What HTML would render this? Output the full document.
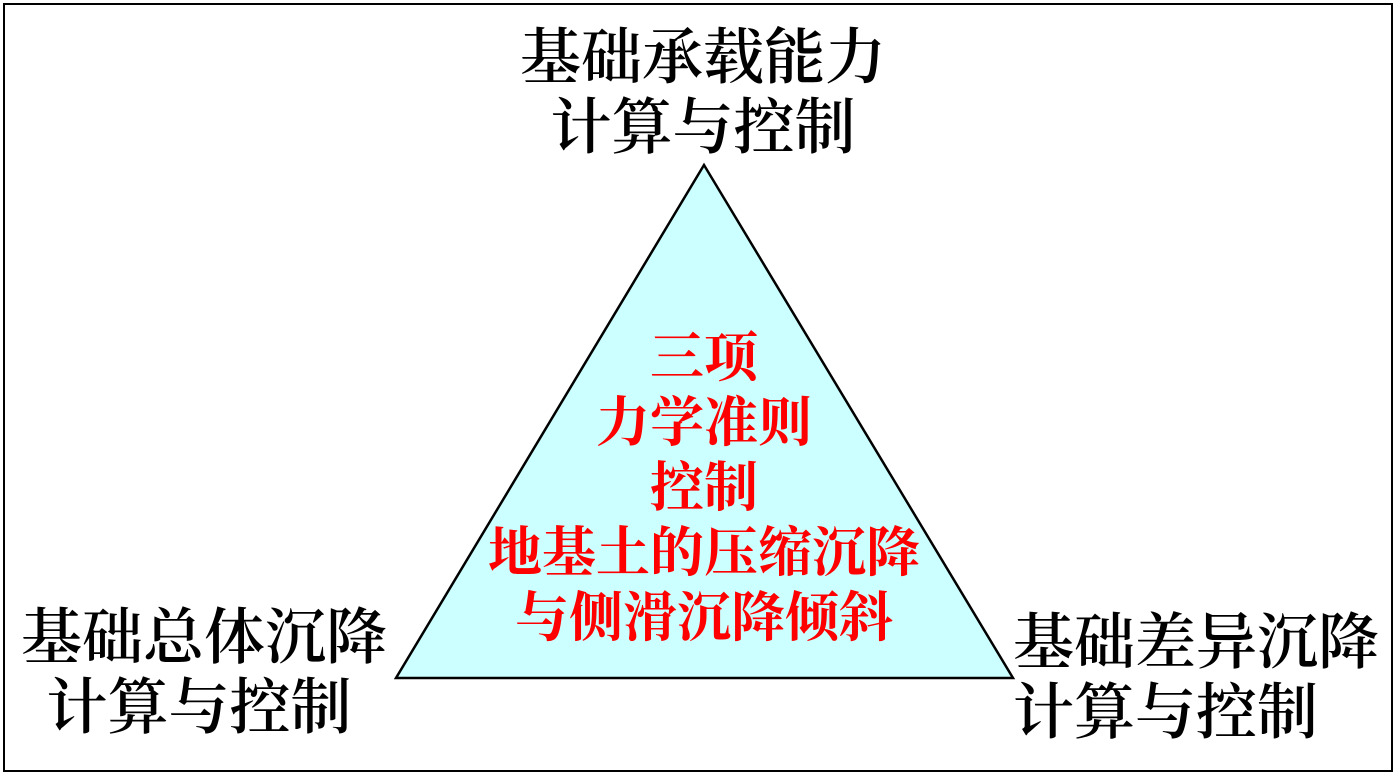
<!DOCTYPE html>
<html><head><meta charset="utf-8"><style>
html,body{margin:0;padding:0;background:#fff;}
body{width:1399px;height:778px;position:relative;overflow:hidden;}
.b{position:absolute;left:3px;top:3px;width:1390px;height:769px;border:2px solid #000;box-sizing:border-box;}
.t{position:absolute;font-family:"Liberation Serif","Noto Serif CJK SC",serif;font-weight:600;font-size:61px;line-height:70px;color:#000;white-space:nowrap;}
.r{position:absolute;left:404px;width:600px;text-align:center;font-family:"Liberation Serif","Noto Serif CJK SC",serif;font-weight:bold;font-size:54px;line-height:65px;color:#ff0000;white-space:nowrap;top:326px;}
</style></head><body>
<div class="b"></div>
<svg style="position:absolute;left:0;top:0" width="1399" height="778">
<polygon points="704,165 396,678 1013,678" fill="#ccffff" stroke="#000" stroke-width="2.5"/>
</svg>
<div class="t" style="left:0;width:1406px;text-align:center;top:24px">基础承载能力<br>计算与控制</div>
<div class="t" style="left:18px;top:604px;text-align:center;width:372px">基础总体沉降<br><span style="margin-left:-10px">计算与控制</span></div>
<div class="t" style="left:1013px;top:609px">基础差异沉降<br>计算与控制</div>
<div class="r">三项<br>力学准则<br>控制<br>地基土的压缩沉降<br>与侧滑沉降倾斜</div>
</body></html>
